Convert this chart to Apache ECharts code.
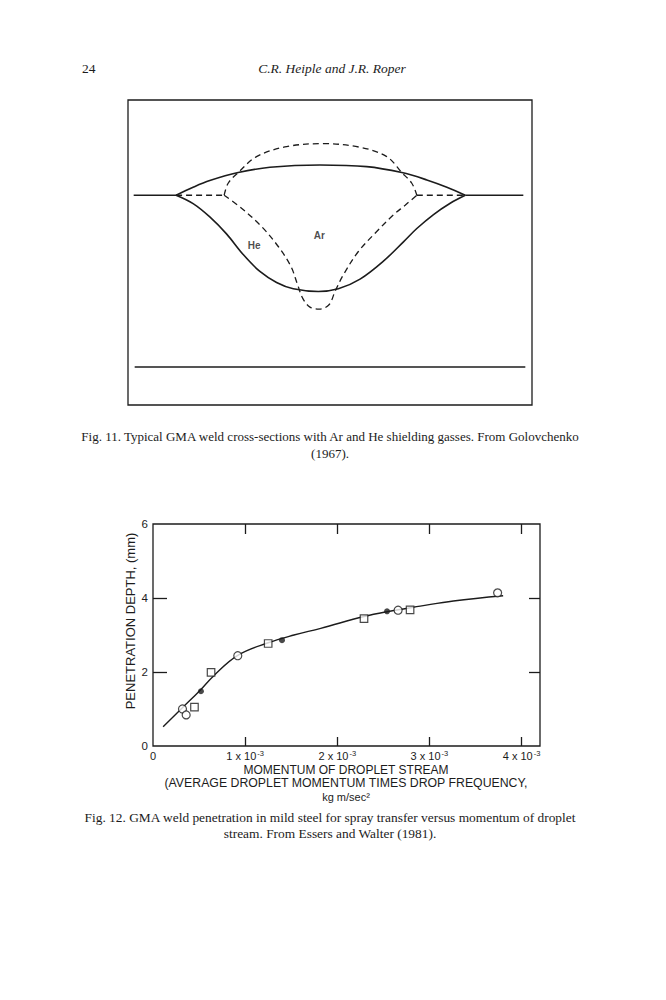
<!DOCTYPE html>
<html><head><meta charset="utf-8">
<script src="https://cdn.jsdelivr.net/npm/echarts@6/dist/echarts.min.js"></script>
<style>html,body{margin:0;padding:0;background:#fff}#c{width:666px;height:1000px}</style>
</head><body><div id="c"></div>
<script>
// ---- Fig. 11: weld cross-section profiles (x: across weld, y: relative to plate surface; arbitrary units)
const heTop = [[-43.6,0],[-38.5,2.4],[-33.5,4.4],[-25,6.8],[-15.5,8.4],[-0.5,9.1],[13.5,8.6],[24,6.8],[31.5,4.6],[37.5,2.4],[43,0]];
const heBottom = [[-43.6,0],[-38.5,-2.5],[-33.5,-6.5],[-28.5,-11.6],[-23.5,-17.8],[-18.5,-22.9],[-13.5,-26.2],[-8.5,-28.1],[-1,-28.9],[5,-28.1],[11.5,-25.2],[18.5,-19.8],[24.5,-14.0],[28.5,-10.0],[33.5,-5.8],[38.5,-2.4],[43,0]];
const arTop = [[-29.2,0],[-28,3.6],[-25,6.8],[-19.5,11.6],[-10.5,14.6],[0.5,15.5],[11.5,14.4],[19.5,11.6],[24,6.8],[27,3.6],[28.5,0]];
const arBottom = [[-29.2,0],[-24,-3.9],[-18,-9.4],[-13,-15.4],[-9.2,-21.4],[-7.2,-26.9],[-5.7,-30.9],[-3.5,-33.6],[-0.7,-34.2],[2.2,-32.9],[4,-28.9],[6.5,-23.9],[11,-16.9],[16.5,-10.9],[21.5,-5.9],[25,-3.0],[28.5,0]];
const surfaceLeft = [[-56.3,0],[-43.6,0]];
const surfaceRight = [[43,0],[60.4,0]];
const arSurfaceLeft = [[-43.6,0],[-29.2,0]];
const arSurfaceRight = [[28.5,0],[43,0]];
const plateBottom = [[-56,-51.6],[61,-51.6]];
const gasLabels = [{name:'He', value:[-20.2,-15.0]},{name:'Ar', value:[-0.7,-12.1]}];

// ---- Fig. 12: penetration depth (mm) vs momentum of droplet stream (x in units of 10^-3 kg m/sec^2)
const openCircles = [[0.32,1.00],[0.36,0.84],[0.92,2.44],[2.66,3.67],[3.74,4.14]];
const openSquares = [[0.45,1.05],[0.63,1.99],[1.25,2.77],[2.29,3.44],[2.79,3.68]];
const filledDots = [[0.52,1.48],[1.40,2.86],[2.54,3.64]];
const fitCurve = [[0.11,0.52],[0.33,1.06],[0.51,1.50],[0.66,1.90],[0.92,2.45],[1.25,2.79],[1.53,3.00],[1.82,3.18],[2.29,3.50],[2.54,3.63],[2.90,3.78],[3.26,3.92],[3.80,4.06]];
const xTickValues = [0,1,2,3,4];
const xInnerTicks = [1,2,3,4];
const yTickValues = [0,2,4,6];
const yInnerTicks = [2,4];

const INK = '#1c1c1c';
const SANS = '"Liberation Sans", Arial, sans-serif';
const SERIF = '"Liberation Serif", "Times New Roman", serif';

function line(data, dashed, w, smooth){
  return {type:'line', xAxisIndex:0, yAxisIndex:0, data, smooth: smooth ? 0.35 : false, symbol:'none', silent:true,
    lineStyle:{color:INK, width:w, type: dashed ? [6,4] : 'solid'}};
}
const noLine = {show:false, onZero:false};

const chart = echarts.init(document.getElementById('c'), null, {renderer:'svg'});
chart.setOption({
  backgroundColor:'#fff',
  animation:false,
  grid:[
    {left:128, top:100, width:404, height:305, show:true, borderColor:INK, borderWidth:1.3, backgroundColor:'transparent'},
    {left:153, top:524, width:387, height:222, show:true, borderColor:INK, borderWidth:1.3, backgroundColor:'transparent'}
  ],
  xAxis:[
    {gridIndex:0, type:'value', min:-58, max:63, show:false},
    {gridIndex:1, type:'value', min:0, max:4.2, position:'bottom',
      axisLine:noLine, splitLine:{show:false},
      axisTick:{inside:true, length:9, lineStyle:{color:INK, width:1.3}, customValues:xInnerTicks},
      axisLabel:{customValues:xTickValues, margin:4, color:INK,
        formatter: v => v === 0 ? '{n|0}' : '{n|' + v + ' x 10}{s|-3}',
        rich:{n:{fontFamily:SANS, fontSize:11, lineHeight:11, color:INK},
              s:{fontFamily:SANS, fontSize:7.5, lineHeight:7, color:INK, padding:[0,0,4,1]}}}},
    {gridIndex:1, type:'value', min:0, max:4.2, position:'top',
      axisLine:noLine, splitLine:{show:false}, axisLabel:{show:false},
      axisTick:{inside:true, length:10, lineStyle:{color:INK, width:1.3}, customValues:xInnerTicks}}
  ],
  yAxis:[
    {gridIndex:0, type:'value', min:-63, max:28.6, show:false},
    {gridIndex:1, type:'value', min:0, max:6, position:'left',
      axisLine:noLine, splitLine:{show:false},
      axisTick:{inside:true, length:14, lineStyle:{color:INK, width:1.3}, customValues:yInnerTicks},
      axisLabel:{customValues:yTickValues, margin:5, color:INK, fontFamily:SANS, fontSize:11.5}},
    {gridIndex:1, type:'value', min:0, max:6, position:'right',
      axisLine:noLine, splitLine:{show:false}, axisLabel:{show:false},
      axisTick:{inside:true, length:11, lineStyle:{color:INK, width:1.3}, customValues:yInnerTicks}}
  ],
  series:[
    line(surfaceLeft,false,1.4,false),
    line(surfaceRight,false,1.4,false),
    line(plateBottom,false,1.4,false),
    line(heTop,false,1.6,true),
    line(heBottom,false,1.6,true),
    line(arSurfaceLeft,true,1.3,false),
    line(arSurfaceRight,true,1.3,false),
    line(arTop,true,1.3,true),
    line(arBottom,true,1.3,true),
    {type:'scatter', xAxisIndex:0, yAxisIndex:0, data:gasLabels, symbolSize:0, silent:true,
      label:{show:true, position:'inside', formatter:p=>p.name, fontFamily:SANS, fontSize:10, fontWeight:'bold', color:INK}},
    {type:'line', xAxisIndex:1, yAxisIndex:1, data:fitCurve, smooth:0.4, symbol:'none', silent:true, z:2,
      lineStyle:{color:INK, width:1.4}},
    {type:'scatter', xAxisIndex:1, yAxisIndex:1, data:openCircles, symbol:'circle', symbolSize:8, z:3, silent:true,
      itemStyle:{color:'#fff', borderColor:INK, borderWidth:1.2}},
    {type:'scatter', xAxisIndex:1, yAxisIndex:1, data:openSquares, symbol:'rect', symbolSize:7.5, z:3, silent:true,
      itemStyle:{color:'#fff', borderColor:INK, borderWidth:1.2}},
    {type:'scatter', xAxisIndex:1, yAxisIndex:1, data:filledDots, symbol:'circle', symbolSize:6, z:3, silent:true,
      itemStyle:{color:INK}}
  ],
  graphic:[
    {type:'text', x:82, y:68, style:{text:'24', font:'13.5px ' + SERIF, fill:INK, align:'left', verticalAlign:'middle'}},
    {type:'text', x:332, y:68, style:{text:'C.R. Heiple and J.R. Roper', font:'italic 13.5px ' + SERIF, fill:INK, align:'center', verticalAlign:'middle'}},
    {type:'text', x:330, y:436, style:{text:'Fig. 11. Typical GMA weld cross-sections with Ar and He shielding gasses. From Golovchenko', font:'13px ' + SERIF, fill:INK, align:'center', verticalAlign:'middle'}},
    {type:'text', x:330, y:453, style:{text:'(1967).', font:'13px ' + SERIF, fill:INK, align:'center', verticalAlign:'middle'}},
    {type:'text', x:130, y:621, rotation:Math.PI/2, style:{text:'PENETRATION DEPTH, (mm)', font:'13px ' + SANS, fill:INK, align:'center', verticalAlign:'middle'}},
    {type:'text', x:346, y:770, style:{text:'MOMENTUM OF DROPLET STREAM', font:'12px ' + SANS, fill:INK, align:'center', verticalAlign:'middle'}},
    {type:'text', x:346, y:783, style:{text:'(AVERAGE DROPLET MOMENTUM TIMES DROP FREQUENCY,', font:'12.3px ' + SANS, fill:INK, align:'center', verticalAlign:'middle'}},
    {type:'text', x:346, y:797, style:{text:'kg m/sec²', font:'11px ' + SANS, fill:INK, align:'center', verticalAlign:'middle'}},
    {type:'text', x:330, y:817, style:{text:'Fig. 12. GMA weld penetration in mild steel for spray transfer versus momentum of droplet', font:'13.4px ' + SERIF, fill:INK, align:'center', verticalAlign:'middle'}},
    {type:'text', x:330, y:833, style:{text:'stream. From Essers and Walter (1981).', font:'13.4px ' + SERIF, fill:INK, align:'center', verticalAlign:'middle'}}
  ]
});
</script></body></html>
